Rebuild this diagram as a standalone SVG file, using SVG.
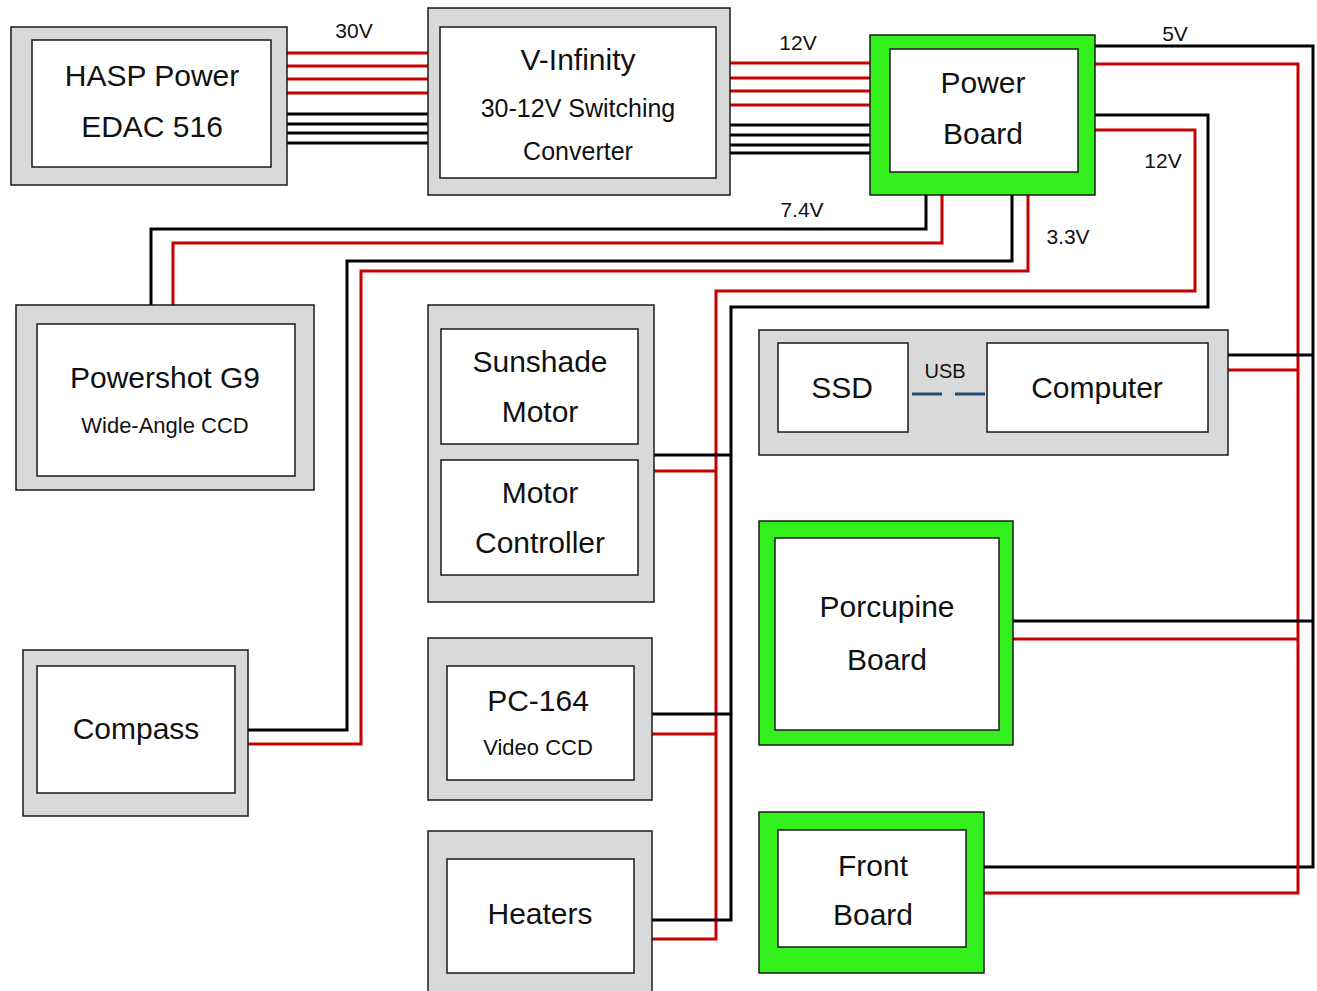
<svg xmlns="http://www.w3.org/2000/svg" width="1317" height="991" viewBox="0 0 1317 991">
<style>
.outer{fill:#d9d9d9;stroke:#1a1a1a;stroke-width:1.5}
.inner{fill:#fff;stroke:#1a1a1a;stroke-width:1.5}
.green{fill:#33f01c;stroke:#1a1a1a;stroke-width:1.5}
.t{font-family:"Liberation Sans",Arial,sans-serif;fill:#111;text-anchor:middle;dominant-baseline:central}
.big{font-size:30px}
.mid{font-size:25px}
.sm{font-size:22px}
.lbl{font-size:21px}
.r{fill:none;stroke:#c80000;stroke-width:3}
.k{fill:none;stroke:#000;stroke-width:3}
</style>
<rect width="1317" height="991" fill="#fff"/>
<g id="connectors">
<g id="wires30v">
<line class="r" x1="287" y1="53" x2="428" y2="53"/>
<line class="r" x1="287" y1="66" x2="428" y2="66"/>
<line class="r" x1="287" y1="79" x2="428" y2="79"/>
<line class="r" x1="287" y1="93" x2="428" y2="93"/>
<line class="k" x1="287" y1="114" x2="428" y2="114"/>
<line class="k" x1="287" y1="124" x2="428" y2="124"/>
<line class="k" x1="287" y1="133" x2="428" y2="133"/>
<line class="k" x1="287" y1="143" x2="428" y2="143"/>
</g>
<g id="wires12v">
<line class="r" x1="730" y1="63" x2="870" y2="63"/>
<line class="r" x1="730" y1="78" x2="870" y2="78"/>
<line class="r" x1="730" y1="91" x2="870" y2="91"/>
<line class="r" x1="730" y1="105" x2="870" y2="105"/>
<line class="k" x1="730" y1="125" x2="870" y2="125"/>
<line class="k" x1="730" y1="135" x2="870" y2="135"/>
<line class="k" x1="730" y1="145" x2="870" y2="145"/>
<line class="k" x1="730" y1="153" x2="870" y2="153"/>
</g>
<g id="wires5v">
<polyline class="k" points="1095,46 1313,46 1313,867 984,867"/>
<polyline class="r" points="1095,64 1298,64 1298,893 984,893"/>
<line class="k" x1="1228" y1="355" x2="1313" y2="355"/>
<line class="r" x1="1228" y1="370" x2="1298" y2="370"/>
<line class="k" x1="1013" y1="621" x2="1313" y2="621"/>
<line class="r" x1="1013" y1="639" x2="1298" y2="639"/>
</g>
<g id="wires12v-out">
<polyline class="r" points="1095,130 1195,130 1195,291 716,291 716,939 652,939"/>
<polyline class="k" points="1095,115 1208,115 1208,307 731,307 731,920 652,920"/>
<line class="k" x1="653" y1="455" x2="731" y2="455"/>
<line class="r" x1="653" y1="471" x2="716" y2="471"/>
<line class="k" x1="652" y1="714" x2="731" y2="714"/>
<line class="r" x1="652" y1="734" x2="716" y2="734"/>
</g>
<g id="wires7v4">
<polyline class="k" points="926,195 926,229 151,229 151,305"/>
<polyline class="r" points="942,195 942,243 173,243 173,305"/>
</g>
<g id="wires3v3">
<polyline class="k" points="1012,195 1012,261 347,261 347,730 248,730"/>
<polyline class="r" points="1028,195 1028,271 361,271 361,744 248,744"/>
</g>
</g>
<g id="labels">
<text class="t lbl" x="354" y="30">30V</text>
<text class="t lbl" x="798" y="42">12V</text>
<text class="t lbl" x="1175" y="33">5V</text>
<text class="t lbl" x="1163" y="160">12V</text>
<text class="t lbl" x="802" y="209">7.4V</text>
<text class="t lbl" x="1068" y="236">3.3V</text>
</g>
<g id="hasp">
<rect class="outer" x="11" y="27" width="276" height="158"/>
<rect class="inner" x="32" y="40" width="239" height="127"/>
<text class="t big" x="152" y="75">HASP Power</text>
<text class="t big" x="152" y="126">EDAC 516</text>
</g>
<g id="vinfinity">
<rect class="outer" x="428" y="8" width="302" height="187"/>
<rect class="inner" x="440" y="27" width="276" height="151"/>
<text class="t big" x="578" y="59">V-Infinity</text>
<text class="t mid" x="578" y="108">30-12V Switching</text>
<text class="t mid" x="578" y="151">Converter</text>
</g>
<g id="powerboard">
<rect class="green" x="870" y="35" width="225" height="160"/>
<rect class="inner" x="890" y="49" width="188" height="123"/>
<text class="t big" x="983" y="82">Power</text>
<text class="t big" x="983" y="133">Board</text>
</g>
<g id="powershot">
<rect class="outer" x="16" y="305" width="298" height="185"/>
<rect class="inner" x="37" y="324" width="258" height="152"/>
<text class="t big" x="165" y="377">Powershot G9</text>
<text class="t sm" x="165" y="425">Wide-Angle CCD</text>
</g>
<g id="motor">
<rect class="outer" x="428" y="305" width="226" height="297"/>
<g id="sunshade">
<rect class="inner" x="441" y="329" width="197" height="115"/>
<text class="t big" x="540" y="361">Sunshade</text>
<text class="t big" x="540" y="411">Motor</text>
</g>
<g id="controller">
<rect class="inner" x="441" y="460" width="197" height="115"/>
<text class="t big" x="540" y="492">Motor</text>
<text class="t big" x="540" y="542">Controller</text>
</g>
</g>
<g id="computerbox">
<rect class="outer" x="759" y="330" width="469" height="125"/>
<g id="ssd">
<rect class="inner" x="778" y="343" width="130" height="89"/>
<text class="t big" x="842" y="387">SSD</text>
</g>
<g id="computer">
<rect class="inner" x="987" y="343" width="221" height="89"/>
<text class="t big" x="1097" y="387">Computer</text>
</g>
<g id="usb">
<line x1="912" y1="394" x2="987" y2="394" stroke="#1f4e79" stroke-width="3" stroke-dasharray="30,13"/>
<text class="t" style="font-size:20px" x="945" y="371">USB</text>
</g>
</g>
<g id="porcupine">
<rect class="green" x="759" y="521" width="254" height="224"/>
<rect class="inner" x="775" y="538" width="224" height="192"/>
<text class="t big" x="887" y="606">Porcupine</text>
<text class="t big" x="887" y="659">Board</text>
</g>
<g id="compass">
<rect class="outer" x="23" y="650" width="225" height="166"/>
<rect class="inner" x="37" y="666" width="198" height="127"/>
<text class="t big" x="136" y="728">Compass</text>
</g>
<g id="pc164">
<rect class="outer" x="428" y="638" width="224" height="162"/>
<rect class="inner" x="447" y="666" width="187" height="114"/>
<text class="t big" x="538" y="700">PC-164</text>
<text class="t sm" x="538" y="747">Video CCD</text>
</g>
<g id="heaters">
<rect class="outer" x="428" y="831" width="224" height="170"/>
<rect class="inner" x="447" y="859" width="187" height="114"/>
<text class="t big" x="540" y="913">Heaters</text>
</g>
<g id="frontboard">
<rect class="green" x="759" y="812" width="225" height="161"/>
<rect class="inner" x="778" y="830" width="188" height="117"/>
<text class="t big" x="873" y="865">Front</text>
<text class="t big" x="873" y="914">Board</text>
</g>
</svg>
